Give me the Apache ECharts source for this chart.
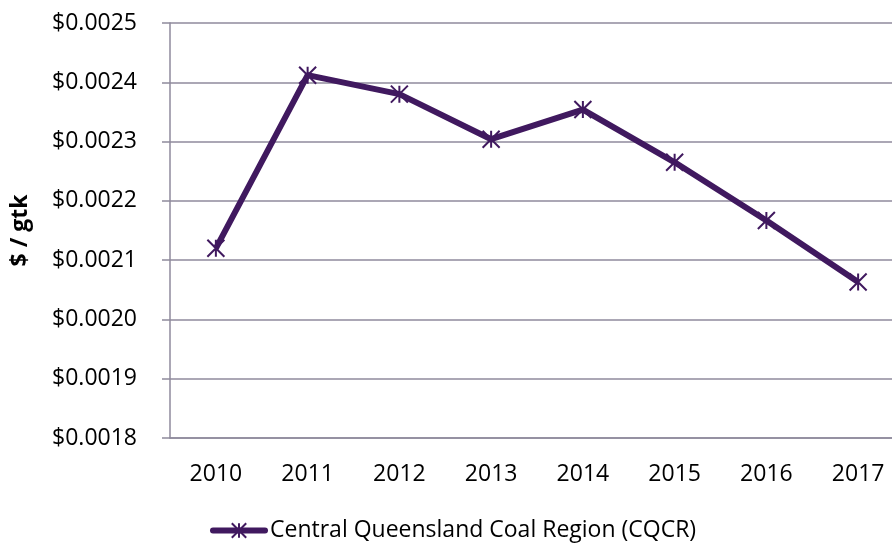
<!DOCTYPE html>
<html>
<head>
<meta charset="utf-8">
<script src="https://cdn.jsdelivr.net/npm/echarts@6/dist/echarts.min.js"></script>
<style>
  html, body { margin: 0; padding: 0; background: #fff; }
  #chart { width: 892px; height: 543px; }
</style>
</head>
<body>
<div id="chart"></div>
<script>
// data
const years = ['2010', '2011', '2012', '2013', '2014', '2015', '2016', '2017'];
const cqcrCost = [0.00212, 0.002412, 0.00238, 0.002304, 0.002354, 0.002265, 0.002167, 0.002063];
const seriesName = 'Central Queensland Coal Region (CQCR)';
const yMin = 0.0018;
const yMax = 0.0025;
const yStep = 0.0001;

const lineColor = '#40195f';
const gridColor = '#8f8a9c';
const font = 'Open Sans';
const asterisk = 'path://M0,0L10,10M10,0L0,10M5,0L5,10';

const chart = echarts.init(document.getElementById('chart'));

const option = {
  backgroundColor: '#ffffff',
  animation: false,
  grid: {
    left: 170,
    top: 23,
    width: 734,
    bottom: 105,
    containLabel: false,
    outerBoundsMode: 'none'
  },
  legend: {
    left: 210,
    top: 519,
    padding: 0,
    itemWidth: 52,
    itemHeight: 18,
    itemGap: 10,
    lineStyle: { width: 6, cap: 'round' },
    textStyle: {
      fontFamily: font,
      fontSize: 23,
      color: '#000'
    },
    data: [seriesName]
  },
  xAxis: {
    type: 'category',
    data: years,
    boundaryGap: true,
    axisLine: { lineStyle: { color: gridColor, width: 1.5 } },
    axisTick: { length: 8, lineStyle: { color: gridColor, width: 1.5 } },
    axisLabel: {
      margin: 25,
      fontFamily: font,
      fontSize: 23,
      color: '#000'
    },
    splitLine: { show: false }
  },
  yAxis: {
    type: 'value',
    min: yMin,
    max: yMax,
    interval: yStep,
    name: '$ / gtk',
    nameLocation: 'middle',
    nameGap: 138,
    nameTextStyle: {
      fontFamily: font,
      fontSize: 23,
      fontWeight: 'bold',
      color: '#000'
    },
    axisLine: { show: true, lineStyle: { color: gridColor, width: 1.5 } },
    axisTick: { show: true, length: 8, lineStyle: { color: gridColor, width: 1.5 } },
    axisLabel: {
      margin: 33,
      fontFamily: font,
      fontSize: 23,
      color: '#000',
      formatter: v => '$' + v.toFixed(4)
    },
    splitLine: { lineStyle: { color: gridColor, width: 1.5 } }
  },
  series: [{
    name: seriesName,
    type: 'line',
    data: cqcrCost,
    symbol: asterisk,
    symbolSize: 17,
    lineStyle: { color: lineColor, width: 6 },
    itemStyle: {
      color: lineColor,
      borderColor: lineColor,
      borderWidth: 2
    }
  }]
};

chart.setOption(option);
</script>
</body>
</html>
